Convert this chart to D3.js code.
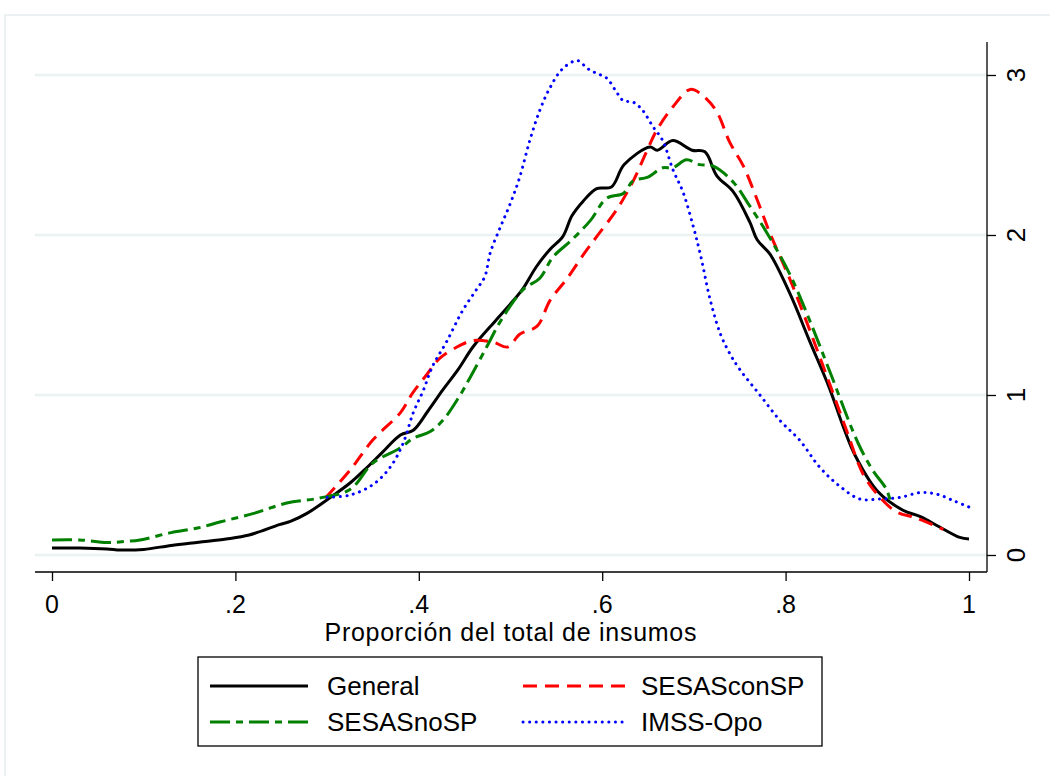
<!DOCTYPE html>
<html>
<head>
<meta charset="utf-8">
<script src="https://cdn.jsdelivr.net/npm/d3@7"></script>
<style>
  body { margin: 0; background: #fff; }
  svg { display: block; font-family: "Liberation Sans", Arial, sans-serif; }
</style>
</head>
<body>
<div id="chart"></div>
<script>
// density estimates, [x, density]
const general = [[0,0.044],[0.03,0.044],[0.06,0.038],[0.075,0.031],[0.1,0.035],[0.13,0.06],[0.16,0.08],[0.19,0.1],
  [0.215,0.125],[0.248,0.19],[0.26,0.21],[0.278,0.26],[0.306,0.37],[0.325,0.45],[0.344,0.55],[0.36,0.64],[0.38,0.75],
  [0.394,0.78],[0.41,0.9],[0.426,1.03],[0.443,1.16],[0.459,1.3],[0.483,1.46],[0.497,1.55],[0.513,1.66],[0.528,1.8],
  [0.543,1.91],[0.557,1.99],[0.567,2.12],[0.579,2.21],[0.594,2.29],[0.61,2.3],[0.624,2.44],[0.652,2.55],[0.66,2.53],
  [0.677,2.59],[0.698,2.53],[0.712,2.52],[0.725,2.37],[0.743,2.27],[0.761,2.08],[0.769,1.97],[0.783,1.88],[0.805,1.63],
  [0.826,1.34],[0.848,1.04],[0.863,0.8],[0.876,0.62],[0.9,0.4],[0.928,0.28],[0.947,0.24],[0.968,0.175],
  [0.99,0.11],[1,0.1]];

const sesasConSP = [[0.298,0.356],[0.325,0.53],[0.35,0.72],[0.38,0.89],[0.393,1.01],[0.409,1.13],[0.423,1.23],
  [0.445,1.31],[0.459,1.34],[0.481,1.33],[0.497,1.3],[0.51,1.38],[0.529,1.43],[0.543,1.59],[0.562,1.73],[0.581,1.89],
  [0.594,1.99],[0.616,2.16],[0.634,2.34],[0.649,2.53],[0.66,2.66],[0.677,2.8],[0.696,2.91],[0.71,2.87],[0.725,2.77],
  [0.739,2.58],[0.754,2.43],[0.769,2.22],[0.783,2.01],[0.805,1.72],[0.826,1.41],[0.848,1.07],[0.867,0.77],
  [0.885,0.5],[0.903,0.36],[0.921,0.27],[0.943,0.23],[0.972,0.16]];

const sesasNoSP = [[0,0.094],[0.03,0.094],[0.06,0.078],[0.08,0.085],[0.096,0.094],[0.13,0.14],[0.16,0.17],[0.183,0.206],
  [0.22,0.26],[0.256,0.325],[0.292,0.356],[0.325,0.41],[0.35,0.575],[0.38,0.67],[0.394,0.73],[0.412,0.77],
  [0.426,0.84],[0.443,0.98],[0.456,1.11],[0.474,1.3],[0.489,1.46],[0.514,1.66],[0.532,1.73],[0.546,1.86],[0.567,1.97],
  [0.587,2.09],[0.605,2.23],[0.623,2.26],[0.634,2.34],[0.649,2.36],[0.666,2.42],[0.677,2.42],[0.692,2.47],[0.706,2.44],
  [0.721,2.43],[0.743,2.33],[0.761,2.18],[0.78,2.01],[0.805,1.75],[0.826,1.47],[0.848,1.15],[0.879,0.7],[0.895,0.53],
  [0.91,0.41],[0.914,0.34]];

const imssOpo = [[0.3,0.36],[0.325,0.375],[0.35,0.44],[0.369,0.55],[0.383,0.7],[0.394,0.89],[0.405,1.03],[0.415,1.18],
  [0.43,1.33],[0.448,1.53],[0.463,1.66],[0.472,1.74],[0.478,1.89],[0.489,2.05],[0.5,2.2],[0.51,2.36],[0.521,2.59],
  [0.532,2.78],[0.543,2.92],[0.557,3.04],[0.573,3.09],[0.584,3.04],[0.594,3.01],[0.605,2.98],[0.616,2.89],[0.623,2.84],
  [0.634,2.83],[0.644,2.78],[0.655,2.68],[0.666,2.59],[0.677,2.41],[0.688,2.27],[0.699,2.06],[0.707,1.88],[0.718,1.59],
  [0.729,1.38],[0.74,1.25],[0.75,1.16],[0.772,1.0],[0.794,0.84],[0.815,0.72],[0.837,0.55],[0.859,0.43],[0.881,0.35],
  [0.903,0.35],[0.925,0.36],[0.947,0.39],[0.965,0.38],[0.983,0.34],[1,0.3]];

const xTicks = [0, 0.2, 0.4, 0.6, 0.8, 1];
const xTickLabels = ["0", ".2", ".4", ".6", ".8", "1"];
const yTicks = [0, 1, 2, 3];
const xTitle = "Proporción del total de insumos";

const series = [
  {name: "General", data: general, color: "#000", dash: null, cap: "butt"},
  {name: "SESASconSP", data: sesasConSP, color: "#ff0000", dash: "14,8", cap: "butt"},
  {name: "SESASnoSP", data: sesasNoSP, color: "#008000", dash: "20,6,7,6", cap: "butt"},
  {name: "IMSS-Opo", data: imssOpo, color: "#0000ff", dash: "0.1,6.5", cap: "round"}
];

const width = 1050, height = 776;
const plot = {left: 35, right: 987, top: 42, bottom: 572};

const x = d3.scaleLinear().domain([0, 1]).range([52, 969]);
const y = d3.scaleLinear().domain([0, 3]).range([555, 75]);

const svg = d3.select("#chart").append("svg")
  .attr("width", width)
  .attr("height", height);

// faint outer frame of the graph region
svg.append("rect")
  .attr("x", 5).attr("y", 15)
  .attr("width", 1060).attr("height", 800)
  .attr("fill", "none")
  .attr("stroke", "#e6eef0")
  .attr("stroke-width", 1.5);

// gridlines
svg.append("g")
  .selectAll("line")
  .data(yTicks)
  .join("line")
  .attr("x1", plot.left).attr("x2", plot.right)
  .attr("y1", d => y(d)).attr("y2", d => y(d))
  .attr("stroke", "#eaf2f3")
  .attr("stroke-width", 2.5);

// right y axis
const yAxis = svg.append("g")
  .attr("transform", `translate(${plot.right},0)`)
  .call(d3.axisRight(y).tickValues(yTicks).tickSize(9).tickFormat(""));
yAxis.select(".domain").attr("d", `M0,${plot.top}V${plot.bottom}`).attr("stroke-width", 1.3);
yAxis.selectAll(".tick line").attr("stroke-width", 1.3);

svg.append("g")
  .selectAll("text")
  .data(yTicks)
  .join("text")
  .attr("transform", d => `translate(1016,${y(d)}) rotate(-90)`)
  .attr("text-anchor", "middle")
  .attr("dy", "0.36em")
  .attr("font-size", 26)
  .text(d => d);

// bottom x axis
const xAxis = svg.append("g")
  .attr("transform", `translate(0,${plot.bottom})`)
  .call(d3.axisBottom(x).tickValues(xTicks).tickSize(9).tickFormat(""));
xAxis.select(".domain").attr("d", `M${plot.left},0H${plot.right}`).attr("stroke-width", 1.3);
xAxis.selectAll(".tick line").attr("stroke-width", 1.3);

svg.append("g")
  .selectAll("text")
  .data(xTicks)
  .join("text")
  .attr("x", d => x(d))
  .attr("y", 613)
  .attr("text-anchor", "middle")
  .attr("font-size", 25)
  .text((d, i) => xTickLabels[i]);

svg.append("text")
  .attr("x", (x(0) + x(1)) / 2)
  .attr("y", 641)
  .attr("text-anchor", "middle")
  .attr("font-size", 25)
  .attr("textLength", 372)
  .text(xTitle);

// density curves
const line = d3.line()
  .x(d => x(d[0]))
  .y(d => y(d[1]))
  .curve(d3.curveCatmullRom);

svg.append("g")
  .selectAll("path")
  .data(series)
  .join("path")
  .attr("d", d => line(d.data))
  .attr("fill", "none")
  .attr("stroke", d => d.color)
  .attr("stroke-width", 3)
  .attr("stroke-linecap", d => d.cap)
  .attr("stroke-linejoin", "round")
  .attr("stroke-dasharray", d => d.dash);

// legend
const legend = svg.append("g");
legend.append("rect")
  .attr("x", 198).attr("y", 657)
  .attr("width", 624).attr("height", 89)
  .attr("fill", "#fff")
  .attr("stroke", "#000")
  .attr("stroke-width", 1.3);

const cols = [{x1: 210, x2: 308, tx: 327}, {x1: 523, x2: 628, tx: 641}];
const rows = [686, 722];
const legendItems = legend.selectAll("g")
  .data(series)
  .join("g")
  .attr("transform", (d, i) => `translate(0,${rows[Math.floor(i / 2)]})`);

legendItems.append("line")
  .attr("x1", (d, i) => cols[i % 2].x1)
  .attr("x2", (d, i) => cols[i % 2].x2)
  .attr("stroke", d => d.color)
  .attr("stroke-width", 3)
  .attr("stroke-linecap", d => d.cap)
  .attr("stroke-dasharray", d => d.dash);

legendItems.append("text")
  .attr("x", (d, i) => cols[i % 2].tx)
  .attr("dy", "0.36em")
  .attr("font-size", 26)
  .text(d => d.name);
</script>
</body>
</html>
